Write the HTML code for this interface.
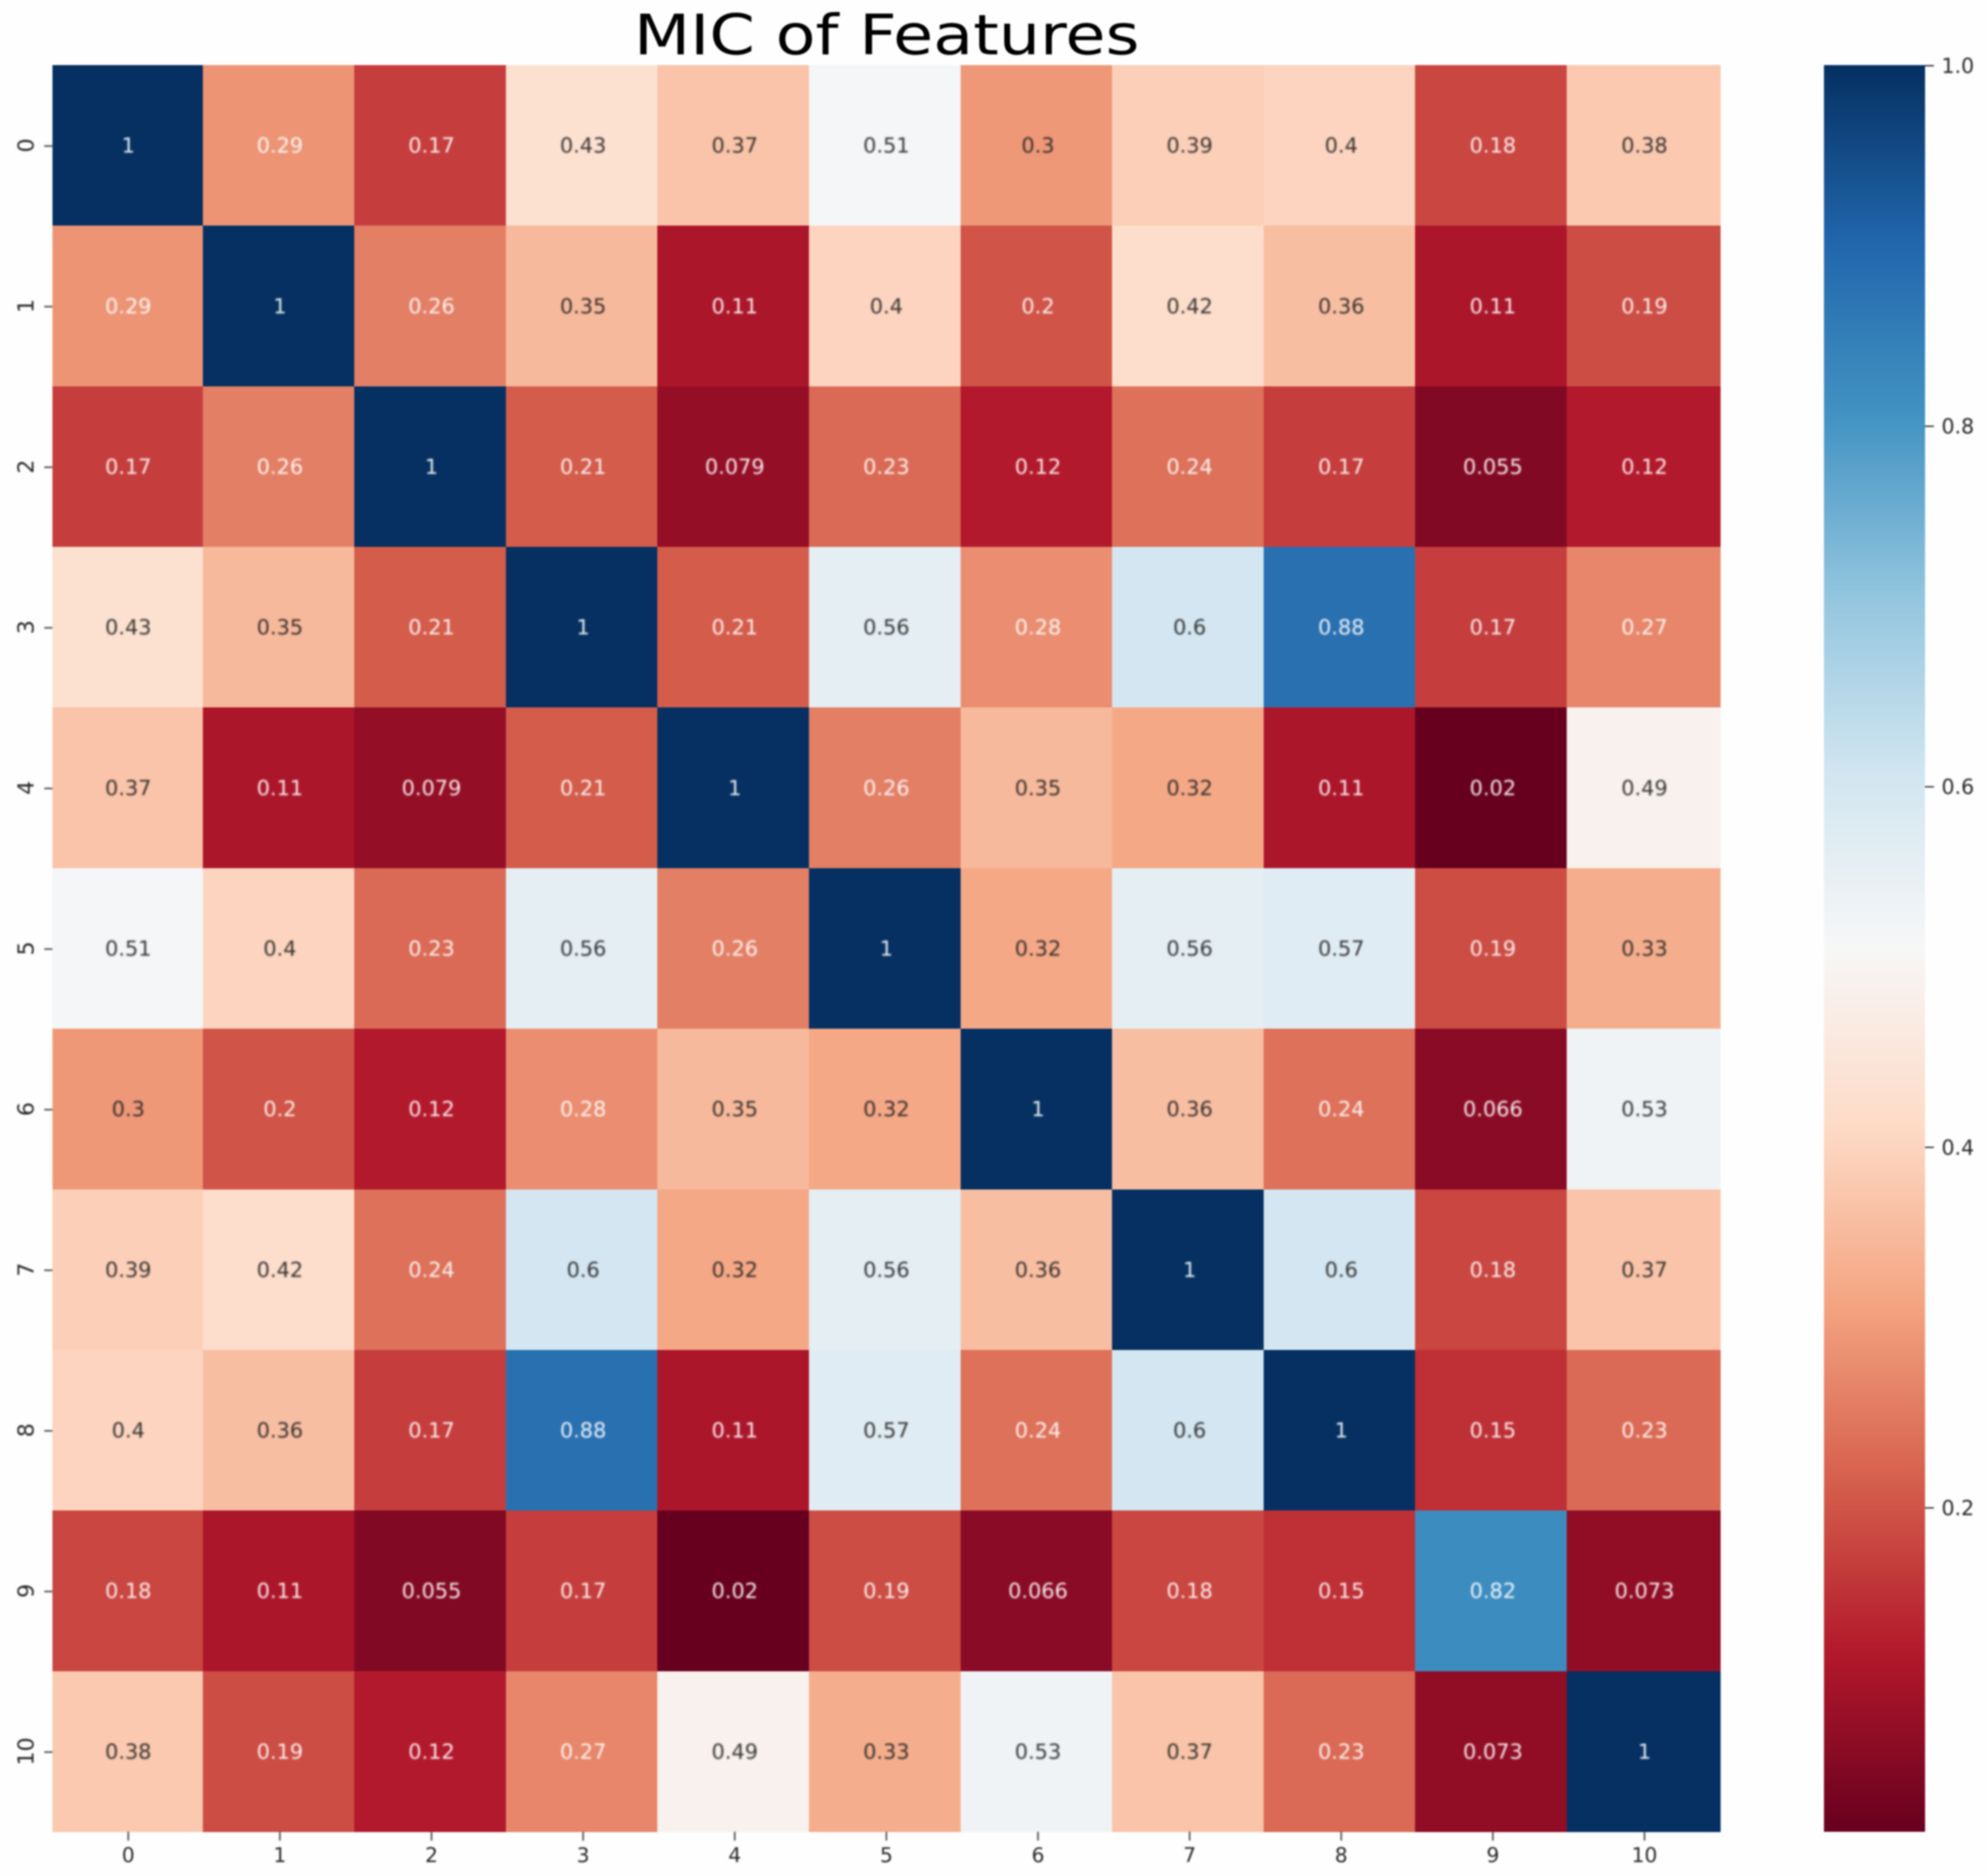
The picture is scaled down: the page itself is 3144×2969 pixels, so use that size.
<!DOCTYPE html>
<html lang="en">
<head>
<meta charset="utf-8">
<title>MIC of Features</title>
<style>
html,body{margin:0;padding:0;background:#fefefe;width:3144px;height:2969px;overflow:hidden}
svg{display:block;filter:blur(1.2px)}
text{font-family:"DejaVu Sans","Liberation Sans",sans-serif}
#annotations{filter:blur(1px);opacity:.92}
#x-axis,#y-axis,#colorbar-labels{filter:blur(.8px)}
</style>
</head>
<body>
<svg id="chart" xmlns="http://www.w3.org/2000/svg" width="3144" height="2969" viewBox="0 0 3144 2969">
<text x="1403" y="86" font-size="88" text-anchor="middle" fill="#000" textLength="800" lengthAdjust="spacingAndGlyphs">MIC of Features</text>
<g id="cells" shape-rendering="crispEdges"></g>
<g id="annotations"></g>
<g id="x-axis"></g>
<g id="y-axis"></g>
<g id="colorbar"></g>
<g id="colorbar-labels"></g>
</svg>
<script>
const categories = ["0","1","2","3","4","5","6","7","8","9","10"];
const row0  = [1,0.29,0.17,0.43,0.37,0.514,0.296,0.39,0.4,0.18,0.38];
const row1  = [0.29,1,0.26,0.35,0.11,0.4,0.2,0.42,0.36,0.11,0.19];
const row2  = [0.17,0.26,1,0.21,0.079,0.23,0.12,0.24,0.17,0.055,0.12];
const row3  = [0.43,0.35,0.21,1,0.21,0.56,0.28,0.6,0.88,0.17,0.27];
const row4  = [0.37,0.11,0.079,0.21,1,0.26,0.35,0.32,0.11,0.02,0.49];
const row5  = [0.514,0.4,0.23,0.56,0.26,1,0.32,0.56,0.57,0.19,0.33];
const row6  = [0.296,0.2,0.12,0.28,0.35,0.32,1,0.36,0.24,0.066,0.53];
const row7  = [0.39,0.42,0.24,0.6,0.32,0.56,0.36,1,0.6,0.18,0.37];
const row8  = [0.4,0.36,0.17,0.88,0.11,0.57,0.24,0.6,1,0.15,0.23];
const row9  = [0.18,0.11,0.055,0.17,0.02,0.19,0.066,0.18,0.15,0.82,0.073];
const row10 = [0.38,0.19,0.12,0.27,0.49,0.33,0.53,0.37,0.23,0.073,1];
const matrix = [row0,row1,row2,row3,row4,row5,row6,row7,row8,row9,row10];
const colorbarTicks = [0.2,0.4,0.6,0.8,1.0];
const colorMin = 0.02;
const colorMax = 1;

const SVGNS = "http://www.w3.org/2000/svg";
const plot = {left:83, right:2722, top:103, bottom:2899};
const bar = {left:2886, right:3046, top:103, bottom:2899};
const rdbu = ["#67001f","#b2182b","#d6604d","#f4a582","#fddbc7","#f7f7f7","#d1e5f0","#92c5de","#4393c3","#2166ac","#053061"];
const cellW = (plot.right - plot.left) / categories.length;
const cellH = (plot.bottom - plot.top) / categories.length;

function xCenter(i){ return plot.left + (i + 0.5) * cellW; }
function yCenter(i){ return plot.top + (i + 0.5) * cellH; }
/* the source raster's inner cell edges sit slightly left of the true grid */
function xEdge(i){
  if (i <= 0) return plot.left;
  if (i >= categories.length) return plot.right;
  return plot.left - 2 + i * 239.8;
}
function yEdge(i){ return plot.top + i * cellH; }
function barScale(v){ return bar.bottom - (v - colorMin) / (colorMax - colorMin) * (bar.bottom - bar.top); }
function hexToRgb(h){ return [1,3,5].map(function(p){ return parseInt(h.substr(p,2),16); }); }
function colorRgb(v){
  const t = Math.max(0, Math.min(1, (v - colorMin) / (colorMax - colorMin))) * (rdbu.length - 1);
  const k = Math.min(rdbu.length - 2, Math.floor(t));
  const a = hexToRgb(rdbu[k]);
  const b = hexToRgb(rdbu[k + 1]);
  return a.map(function(c, n){ return Math.round(c + (b[n] - c) * (t - k)); });
}
function colorCss(v){ return "rgb(" + colorRgb(v).join(",") + ")"; }
function annotationColor(v){
  const lin = colorRgb(v).map(function(c){
    const s = c / 255;
    return s <= 0.03928 ? s / 12.92 : Math.pow((s + 0.055) / 1.055, 2.4);
  });
  const lum = 0.2126 * lin[0] + 0.7152 * lin[1] + 0.0722 * lin[2];
  return lum > 0.408 ? "#262626" : "#ffffff";
}
function formatValue(v){ return String(Number(v.toPrecision(2))); }
function make(tag, attrs, parent){
  const el = document.createElementNS(SVGNS, tag);
  Object.keys(attrs).forEach(function(k){ el.setAttribute(k, attrs[k]); });
  parent.appendChild(el);
  return el;
}

const cellsG = document.getElementById("cells");
const annG = document.getElementById("annotations");
const xG = document.getElementById("x-axis");
const yG = document.getElementById("y-axis");
const cbG = document.getElementById("colorbar");
const cbLabelG = document.getElementById("colorbar-labels");

matrix.forEach(function(row, r){
  row.forEach(function(v, c){
    const rect = make("rect", {x:xEdge(c), y:yEdge(r), width:xEdge(c + 1) - xEdge(c) + 0.5, height:cellH + 0.5, fill:colorCss(v)}, cellsG);
    
    
    const label = make("text", {x:xCenter(c), y:yCenter(r) + 11.5, "font-size":33, "text-anchor":"middle", fill:annotationColor(v)}, annG);
    
    
    label.textContent = formatValue(v);
  });
});

categories.forEach(function(name, i){
  const cx = xCenter(i);
  const xTick = make("line", {x1:cx, x2:cx, y1:plot.bottom, y2:plot.bottom + 14, stroke:"#444", "stroke-width":2.4}, xG);
  
  
  const xLabel = make("text", {x:cx, y:2947, "font-size":32, "text-anchor":"middle", fill:"#262626"}, xG);
  
  
  xLabel.textContent = name;

  const cy = yCenter(i) + 1;
  const yTick = make("line", {x1:plot.left - 13, x2:plot.left, y1:cy, y2:cy, stroke:"#444", "stroke-width":2.4}, yG);
  
  
  const yLabel = make("text", {x:0, y:0, "font-size":35, "text-anchor":"middle", fill:"#262626", transform:"translate(53 " + (cy - 1) + ") rotate(-90)"}, yG);
  
  
  yLabel.textContent = name;
});

const defs = make("defs", {}, cbG);
const grad = make("linearGradient", {id:"cbar-gradient", x1:0, y1:1, x2:0, y2:0}, defs);
rdbu.forEach(function(col, i){
  make("stop", {offset:i / (rdbu.length - 1), "stop-color":col}, grad);
});
const barRect = make("rect", {x:bar.left, y:bar.top, width:bar.right - bar.left, height:bar.bottom - bar.top, fill:"url(#cbar-gradient)"}, cbG);



colorbarTicks.forEach(function(v){
  const ty = barScale(v);
  const tick = make("line", {x1:bar.right, x2:bar.right + 14, y1:ty + 1, y2:ty + 1, stroke:"#444", "stroke-width":2.4}, cbG);
  
  
  const label = make("text", {x:3072, y:ty + 12.5, "font-size":32.5, fill:"#262626"}, cbLabelG);
  
  
  label.textContent = v.toFixed(1);
});
</script>
</body>
</html>
